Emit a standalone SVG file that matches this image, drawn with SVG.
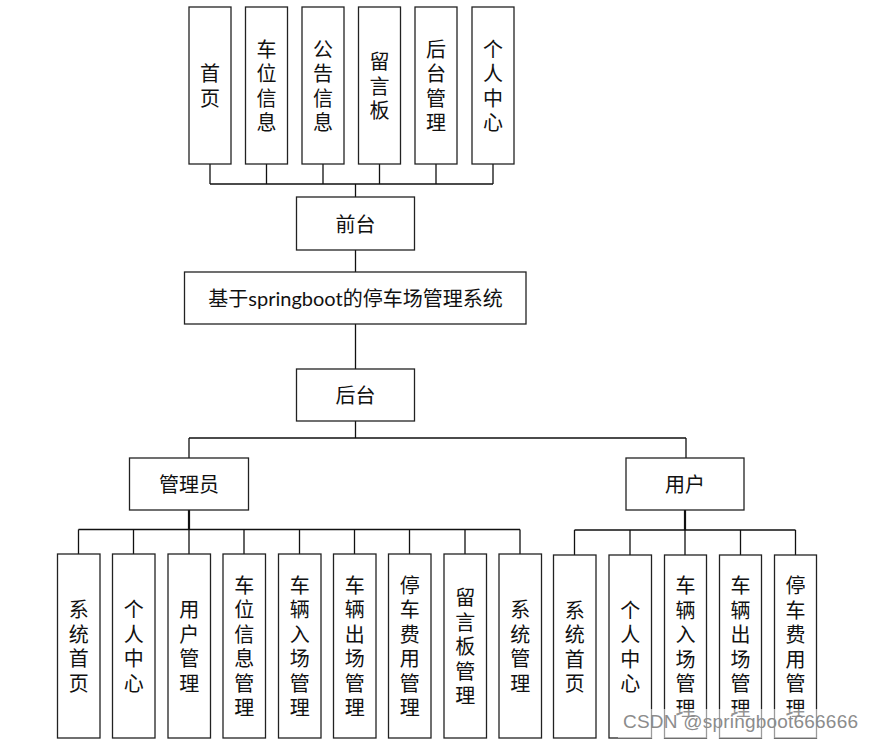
<svg xmlns="http://www.w3.org/2000/svg" width="875" height="742" viewBox="0 0 875 742">
<style>
.b{fill:#fff;stroke:#222;stroke-width:1.3}
.l{fill:none;stroke:#111;stroke-width:1.3}
.t{font-family:Lato,"Noto Sans CJK SC",sans-serif;font-size:20px;fill:#111;text-anchor:middle;dominant-baseline:central}
.wm{font-family:"Liberation Sans",Arial,sans-serif;font-size:19px;fill:#8c8c8c}
</style>
<rect width="875" height="742" fill="#fff"/>
<g id="connectors">
<path class="l" d="M210 164V184M266.5 164V184M323 164V184M379.5 164V184M436 164V184M493 164V184M210 184H493M355.5 184V197"/>
<path class="l" d="M355.5 250V272M355.5 324V369M355.5 421V438M189 438H686M189 438V458M686 438V458"/>
<path class="l" d="M189 510V529.5M78.5 529.5H520M78.5 529.5V554M133.5 529.5V554M189 529.5V554M244 529.5V554M299.5 529.5V554M354.5 529.5V554M409.5 529.5V554M465 529.5V554M520 529.5V554"/>
<path class="l" d="M685 510V530M574.5 530H795.5M574.5 530V555M630 530V555M685 530V555M740.5 530V555M795.5 530V555"/>
<path d="M189 510V529.5M685 510V530" stroke="#111" stroke-width="2.2"/>
</g>
<g id="f1"><rect class="b" x="189" y="7" width="42" height="157"/><text class="t"><tspan x="210" y="73.25">首</tspan><tspan x="210" y="97.75">页</tspan></text></g>
<g id="f2"><rect class="b" x="245.5" y="7" width="42" height="157"/><text class="t"><tspan x="266.5" y="48.75">车</tspan><tspan x="266.5" y="73.25">位</tspan><tspan x="266.5" y="97.75">信</tspan><tspan x="266.5" y="122.25">息</tspan></text></g>
<g id="f3"><rect class="b" x="302" y="7" width="42" height="157"/><text class="t"><tspan x="323" y="48.75">公</tspan><tspan x="323" y="73.25">告</tspan><tspan x="323" y="97.75">信</tspan><tspan x="323" y="122.25">息</tspan></text></g>
<g id="f4"><rect class="b" x="358.5" y="7" width="42" height="157"/><text class="t"><tspan x="379.5" y="61">留</tspan><tspan x="379.5" y="85.5">言</tspan><tspan x="379.5" y="110">板</tspan></text></g>
<g id="f5"><rect class="b" x="415" y="7" width="42" height="157"/><text class="t"><tspan x="436" y="48.75">后</tspan><tspan x="436" y="73.25">台</tspan><tspan x="436" y="97.75">管</tspan><tspan x="436" y="122.25">理</tspan></text></g>
<g id="f6"><rect class="b" x="472" y="7" width="42" height="157"/><text class="t"><tspan x="493" y="48.75">个</tspan><tspan x="493" y="73.25">人</tspan><tspan x="493" y="97.75">中</tspan><tspan x="493" y="122.25">心</tspan></text></g>
<g id="front"><rect class="b" x="296.5" y="197" width="118" height="53"/><text class="t" x="355.5" y="223.5">前台</text></g>
<g id="system"><rect class="b" x="184.5" y="272" width="341.5" height="52"/><text class="t" x="355.5" y="298">基于springboot的停车场管理系统</text></g>
<g id="back"><rect class="b" x="296.5" y="369" width="118" height="52"/><text class="t" x="355.5" y="395">后台</text></g>
<g id="admin"><rect class="b" x="129.5" y="458" width="119" height="52"/><text class="t" x="189" y="484">管理员</text></g>
<g id="user"><rect class="b" x="626" y="458" width="118" height="52"/><text class="t" x="685" y="484">用户</text></g>
<g id="a1"><rect class="b" x="57.5" y="554" width="42.5" height="184"/><text class="t"><tspan x="78.75" y="609.25">系</tspan><tspan x="78.75" y="633.75">统</tspan><tspan x="78.75" y="658.25">首</tspan><tspan x="78.75" y="682.75">页</tspan></text></g>
<g id="a2"><rect class="b" x="112.5" y="554" width="42.5" height="184"/><text class="t"><tspan x="133.75" y="609.25">个</tspan><tspan x="133.75" y="633.75">人</tspan><tspan x="133.75" y="658.25">中</tspan><tspan x="133.75" y="682.75">心</tspan></text></g>
<g id="a3"><rect class="b" x="168" y="554" width="42.5" height="184"/><text class="t"><tspan x="189.25" y="609.25">用</tspan><tspan x="189.25" y="633.75">户</tspan><tspan x="189.25" y="658.25">管</tspan><tspan x="189.25" y="682.75">理</tspan></text></g>
<g id="a4"><rect class="b" x="223" y="554" width="42.5" height="184"/><text class="t"><tspan x="244.25" y="584.75">车</tspan><tspan x="244.25" y="609.25">位</tspan><tspan x="244.25" y="633.75">信</tspan><tspan x="244.25" y="658.25">息</tspan><tspan x="244.25" y="682.75">管</tspan><tspan x="244.25" y="707.25">理</tspan></text></g>
<g id="a5"><rect class="b" x="278.5" y="554" width="42.5" height="184"/><text class="t"><tspan x="299.75" y="584.75">车</tspan><tspan x="299.75" y="609.25">辆</tspan><tspan x="299.75" y="633.75">入</tspan><tspan x="299.75" y="658.25">场</tspan><tspan x="299.75" y="682.75">管</tspan><tspan x="299.75" y="707.25">理</tspan></text></g>
<g id="a6"><rect class="b" x="333.5" y="554" width="42.5" height="184"/><text class="t"><tspan x="354.75" y="584.75">车</tspan><tspan x="354.75" y="609.25">辆</tspan><tspan x="354.75" y="633.75">出</tspan><tspan x="354.75" y="658.25">场</tspan><tspan x="354.75" y="682.75">管</tspan><tspan x="354.75" y="707.25">理</tspan></text></g>
<g id="a7"><rect class="b" x="388.5" y="554" width="42.5" height="184"/><text class="t"><tspan x="409.75" y="584.75">停</tspan><tspan x="409.75" y="609.25">车</tspan><tspan x="409.75" y="633.75">费</tspan><tspan x="409.75" y="658.25">用</tspan><tspan x="409.75" y="682.75">管</tspan><tspan x="409.75" y="707.25">理</tspan></text></g>
<g id="a8"><rect class="b" x="444" y="554" width="42.5" height="184"/><text class="t"><tspan x="465.25" y="597">留</tspan><tspan x="465.25" y="621.5">言</tspan><tspan x="465.25" y="646">板</tspan><tspan x="465.25" y="670.5">管</tspan><tspan x="465.25" y="695">理</tspan></text></g>
<g id="a9"><rect class="b" x="499" y="554" width="42.5" height="184"/><text class="t"><tspan x="520.25" y="609.25">系</tspan><tspan x="520.25" y="633.75">统</tspan><tspan x="520.25" y="658.25">管</tspan><tspan x="520.25" y="682.75">理</tspan></text></g>
<g id="u1"><rect class="b" x="553.5" y="555" width="42.5" height="183"/><text class="t"><tspan x="574.75" y="609.75">系</tspan><tspan x="574.75" y="634.25">统</tspan><tspan x="574.75" y="658.75">首</tspan><tspan x="574.75" y="683.25">页</tspan></text></g>
<g id="u2"><rect class="b" x="609" y="555" width="42.5" height="183"/><text class="t"><tspan x="630.25" y="609.75">个</tspan><tspan x="630.25" y="634.25">人</tspan><tspan x="630.25" y="658.75">中</tspan><tspan x="630.25" y="683.25">心</tspan></text></g>
<g id="u3"><rect class="b" x="664.5" y="555" width="42" height="183"/><text class="t"><tspan x="685.5" y="585.25">车</tspan><tspan x="685.5" y="609.75">辆</tspan><tspan x="685.5" y="634.25">入</tspan><tspan x="685.5" y="658.75">场</tspan><tspan x="685.5" y="683.25">管</tspan><tspan x="685.5" y="707.75">理</tspan></text></g>
<g id="u4"><rect class="b" x="719.5" y="555" width="42" height="183"/><text class="t"><tspan x="740.5" y="585.25">车</tspan><tspan x="740.5" y="609.75">辆</tspan><tspan x="740.5" y="634.25">出</tspan><tspan x="740.5" y="658.75">场</tspan><tspan x="740.5" y="683.25">管</tspan><tspan x="740.5" y="707.75">理</tspan></text></g>
<g id="u5"><rect class="b" x="774.5" y="555" width="42" height="183"/><text class="t"><tspan x="795.5" y="585.25">停</tspan><tspan x="795.5" y="609.75">车</tspan><tspan x="795.5" y="634.25">费</tspan><tspan x="795.5" y="658.75">用</tspan><tspan x="795.5" y="683.25">管</tspan><tspan x="795.5" y="707.75">理</tspan></text></g>
<g id="watermark"><rect x="618" y="709" width="246" height="29" fill="#fff" opacity="0.55"/><text class="wm" x="623" y="728" textLength="235">CSDN @springboot666666</text></g>
</svg>
